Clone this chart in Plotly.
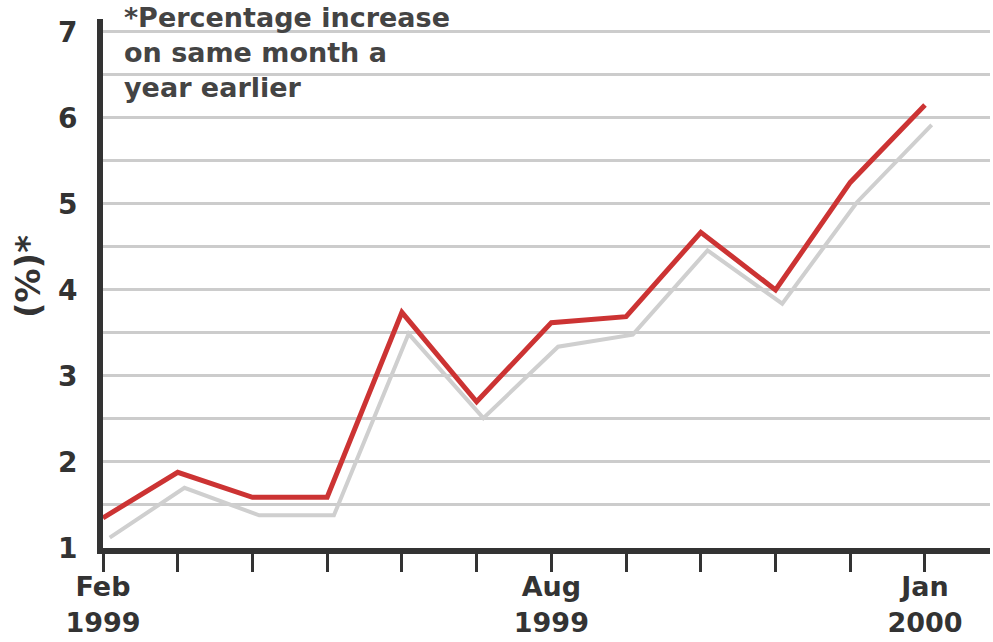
import plotly.graph_objects as go

months = ["Feb 1999", "Mar 1999", "Apr 1999", "May 1999", "Jun 1999", "Jul 1999",
          "Aug 1999", "Sep 1999", "Oct 1999", "Nov 1999", "Dec 1999", "Jan 2000"]
red_values = [1.35, 1.88, 1.59, 1.59, 3.74, 2.70, 3.62, 3.69, 4.67, 4.00, 5.25, 6.15]
grey_values = [1.12, 1.70, 1.38, 1.38, 3.49, 2.51, 3.34, 3.48, 4.46, 3.84, 5.02, 5.92]
x_tick_idx = [0, 6, 11]
x_tick_text = ["Feb<br>1999", "Aug<br>1999", "Jan<br>2000"]
y_ticks = [1, 2, 3, 4, 5, 6, 7]
note_text = "*Percentage increase<br>on same month a<br>year earlier"
y_title = "(%)*"

idx = list(range(len(months)))
FONT = "DejaVu Sans"
DARK = "#333333"

fig = go.Figure()
fig.add_trace(go.Scatter(x=idx, y=grey_values, mode="lines", xaxis="x2",
                         line=dict(color="#cfcfcf", width=4), hoverinfo="skip",
                         showlegend=False))
fig.add_trace(go.Scatter(x=idx, y=red_values, mode="lines",
                         line=dict(color="#cc3333", width=5), showlegend=False,
                         text=months))

xr = [0, 11.87]
fig.update_layout(
    width=993, height=642,
    margin=dict(l=103, r=3, t=19, b=94),
    paper_bgcolor="white", plot_bgcolor="white",
    font=dict(family=FONT, color=DARK),
    xaxis=dict(range=xr, showgrid=False, zeroline=False, automargin=False,
               tickmode="array", tickvals=idx,
               ticktext=[x_tick_text[x_tick_idx.index(i)] if i in x_tick_idx else "" for i in idx],
               ticks="outside", ticklen=18, tickwidth=3, tickcolor=DARK,
               showline=True, linewidth=6, linecolor=DARK, ticklabelstandoff=-8,
               tickfont=dict(family=FONT, size=27, color=DARK, weight="bold")),
    xaxis2=dict(range=[xr[0] - 0.09, xr[1] - 0.09], overlaying="x", visible=False),
    yaxis=dict(range=[1, 7.15], tickvals=y_ticks, ticktext=[str(v) for v in y_ticks],
               showgrid=True, gridcolor="#cccccc", gridwidth=3, automargin=False,
               minor=dict(dtick=0.5, showgrid=True, gridcolor="#cccccc", gridwidth=3),
               zeroline=False, showline=True, linewidth=6, linecolor=DARK,
               ticks="", ticklabelstandoff=14,
               tickfont=dict(family=FONT, size=28, color=DARK, weight="bold")),
    annotations=[
        dict(text=note_text, xref="paper", yref="paper", x=(122 - 103) / 887, y=1.035,
             xanchor="left", yanchor="top", align="left", showarrow=False,
             font=dict(family=FONT, size=27, color="#444444", weight="bold")),
        dict(text=y_title, xref="paper", yref="paper", x=(28 - 103) / 887, y=(548 - 277) / 529,
             xanchor="center", yanchor="middle", textangle=-90, showarrow=False,
             font=dict(family=FONT, size=34, color=DARK, weight="bold")),
    ],
)
fig.write_html("out.html")
